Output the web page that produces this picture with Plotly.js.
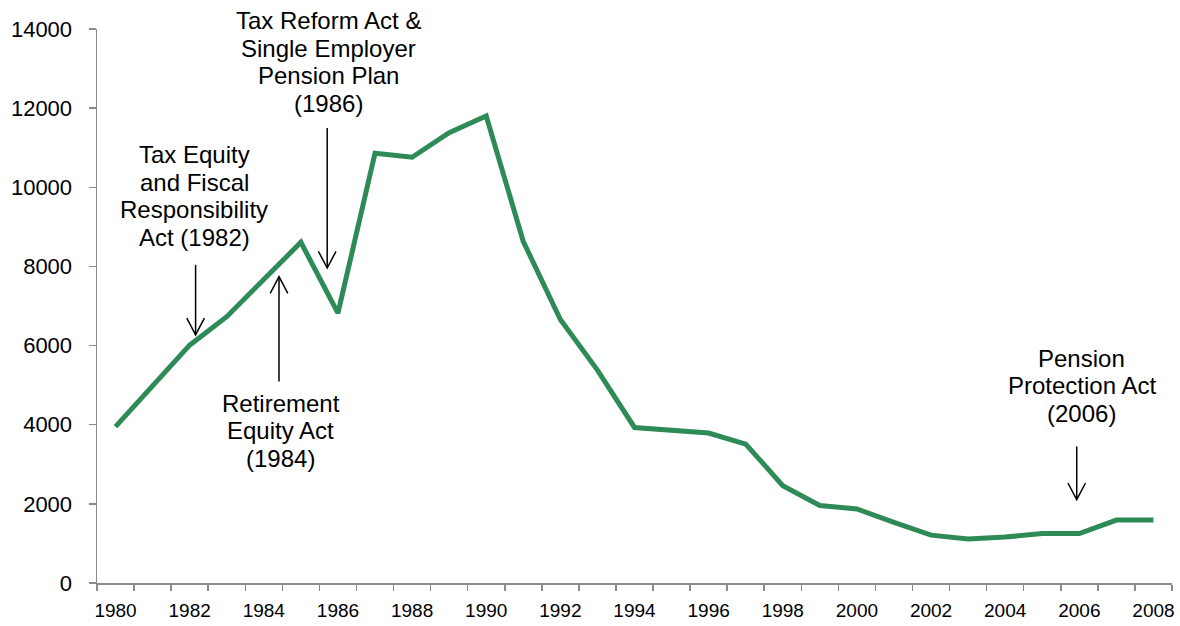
<!DOCTYPE html>
<html>
<head>
<meta charset="utf-8">
<script src="https://cdn.plot.ly/plotly-3.0.1.min.js"></script>
<style>html,body{margin:0;padding:0;background:#fff}#chart{width:1180px;height:626px}</style>
</head>
<body>
<div id="chart"></div>
<script>
const years = [1980,1981,1982,1983,1984,1985,1986,1987,1988,1989,1990,1991,1992,1993,1994,1995,1996,1997,1998,1999,2000,2001,2002,2003,2004,2005,2006,2007,2008];
const values = [3950,4980,6010,6730,7660,8610,6820,10860,10760,11380,11800,8630,6660,5380,3930,3870,3790,3510,2460,1960,1870,1530,1210,1110,1160,1250,1250,1590,1590];
const tickYears = [1980,1982,1984,1986,1988,1990,1992,1994,1996,1998,2000,2002,2004,2006,2008];
const tickLabels = tickYears.map(String);

// annotation text blocks: lines, centre x (year), baseline of first line (value)
const notes = [
  {lines: ["Tax Equity", "and Fiscal", "Responsibility", "Act (1982)"], x: 1982.12, y: 10615},
  {lines: ["Retirement", "Equity Act", "(1984)"], x: 1984.46, y: 4330},
  {lines: ["Tax Reform Act &amp;", "Single Employer", "Pension Plan", "(1986)"], x: 1985.74, y: 13990},
  {lines: ["Pension", "Protection Act", "(2006)"], x: 2006.07, y: 5470}
];
// arrows: x, tail y, tip y
const arrows = [
  {x: 1982.16, from: 8040, to: 6270},
  {x: 1984.41, from: 5090, to: 7740},
  {x: 1985.71, from: 11500, to: 7960},
  {x: 2005.93, from: 3450, to: 2105}
];

const yMax = 14000;
const pxPerYear = 37.07, unitsPerPx = 25.27;
const lineStep = 27.5 * unitsPerPx;
const headHalfW = 8.8 / pxPerYear, headH = 16.7 * unitsPerPx;
const shapes = [];
arrows.forEach(a => {
  const dir = a.to < a.from ? 1 : -1;
  shapes.push({type:'path', xref:'x', yref:'y',
    path:`M${a.x},${a.from} L${a.x},${a.to}`, line:{color:'#000', width:1.5}});
  shapes.push({type:'path', xref:'x', yref:'y',
    path:`M${a.x-headHalfW},${a.to+dir*headH} L${a.x},${a.to} L${a.x+headHalfW},${a.to+dir*headH}`,
    line:{color:'#000', width:1.5}});
});

const family = '"Liberation Sans", Arial, sans-serif';
const annSize = 24;
const annotations = [];
notes.forEach(n => {
  n.lines.forEach((t, i) => {
    const v = n.y - i * lineStep + 0.35 * annSize * unitsPerPx;
    annotations.push({
      text: t, x: n.x, y: v / yMax,
      xref: 'x', yref: 'paper', showarrow: false, xanchor: 'center', yanchor: 'middle',
      font: {family: family, size: annSize, color: '#000'}
    });
  });
});

const layout = {
  width: 1180, height: 626,
  margin: {l: 97, r: 8, t: 29, b: 43},
  paper_bgcolor: '#fff', plot_bgcolor: '#fff',
  showlegend: false,
  font: {family: family, color: '#000'},
  xaxis: {
    range: [1979.5, 2008.5], tickmode: 'array', tickvals: tickYears, ticktext: tickLabels,
    ticks: '', showline: true, linecolor: '#8c8c8c', linewidth: 1.5, showgrid: false, zeroline: false,
    tickfont: {family: family, size: 19, color: '#000'}, ticklabelstandoff: 10,
    minor: {tick0: 1979.5, dtick: 1, ticks: 'outside', ticklen: 6, tickcolor: '#8c8c8c', tickwidth: 1.5, showgrid: false}
  },
  yaxis: {
    range: [0, yMax], dtick: 2000, tickformat: 'd', ticks: 'outside', ticklen: 7, tickcolor: '#8c8c8c', tickwidth: 1.5,
    showline: true, linecolor: '#8c8c8c', linewidth: 1.5, showgrid: false, zeroline: false,
    tickfont: {family: family, size: 22, color: '#000'}, ticklabelstandoff: 12
  },
  annotations: annotations,
  shapes: shapes
};

Plotly.newPlot('chart', [{
  x: years, y: values, type: 'scatter', mode: 'lines',
  line: {color: '#2e8b57', width: 5, shape: 'linear'},
  hoverinfo: 'skip'
}], layout, {staticPlot: true, displayModeBar: false});
</script>
</body>
</html>
